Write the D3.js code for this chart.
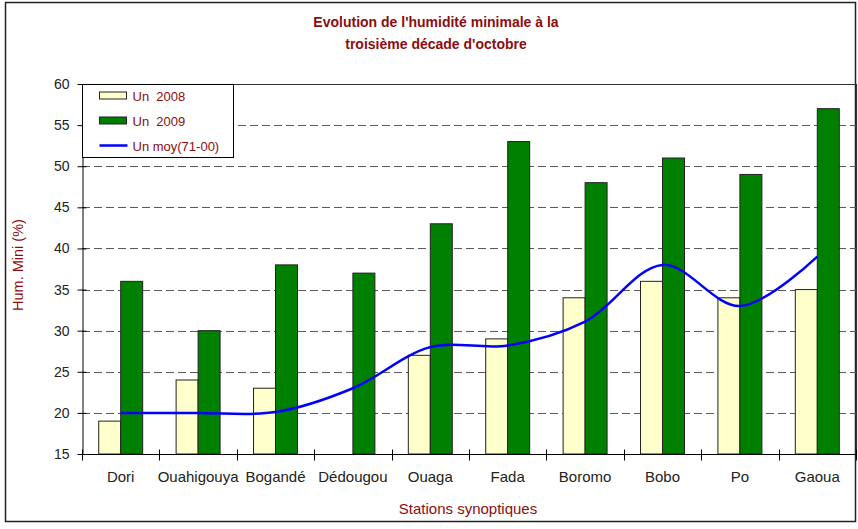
<!DOCTYPE html>
<html lang="fr">
<head>
<meta charset="UTF-8">
<title>Humidité minimale</title>
<script src="https://d3js.org/d3.v7.min.js"></script>
<style>
  body { margin: 0; background: #fff; }
  svg { display: block; font-family: "Liberation Sans", Arial, sans-serif; }
  text { white-space: pre; }
</style>
</head>
<body>
<script>
// stations and values
const stations = ["Dori", "Ouahigouya", "Bogandé", "Dédougou", "Ouaga", "Fada", "Boromo", "Bobo", "Po", "Gaoua"];
const un2008 = [19, 24, 23, null, 27, 29, 34, 36, 34, 35];
const un2009 = [36, 30, 38, 37, 43, 53, 48, 51, 49, 57];
const unMoy = [20, 20, 20.1, 23, 28, 28.2, 31.1, 38, 33, 39];
const yTicks = [15, 20, 25, 30, 35, 40, 45, 50, 55, 60];
const seriesNames = ["Un  2008", "Un  2009", "Un moy(71-00)"];

const W = 858, H = 529;
const plot = {left: 82, right: 856, top: 84, bottom: 454};
const darkRed = "#8b0d0d";

const svg = d3.select("body").append("svg")
  .attr("width", W).attr("height", H);

// outer frame
svg.append("rect")
  .attr("x", 5.5).attr("y", 2.5).attr("width", 850).attr("height", 519)
  .attr("fill", "#fff").attr("stroke", "#222").attr("stroke-width", 1.5);

const x0 = d3.scaleBand().domain(stations).range([plot.left, plot.right]).padding(0);
const x1 = d3.scaleBand().domain(["2008", "2009"]).range([0, x0.bandwidth()])
  .paddingInner(0).paddingOuter(0.76);
const y = d3.scaleLinear().domain([15, 60]).range([plot.bottom, plot.top]);

// grid lines
svg.append("g").selectAll("line")
  .data(yTicks.filter(t => t > 15 && t < 60))
  .join("line")
  .attr("x1", plot.left).attr("x2", plot.right)
  .attr("y1", d => Math.round(y(d)) + 0.5).attr("y2", d => Math.round(y(d)) + 0.5)
  .attr("stroke", "#5a5a5a").attr("stroke-dasharray", "8,4");

// plot border (top & right)
svg.append("path")
  .attr("d", `M${plot.left},${plot.top + 0.5}H${plot.right + 0.5}V${plot.bottom}`)
  .attr("fill", "none").attr("stroke", "#333").attr("stroke-width", 1.2);

// bars
const bars = svg.append("g");
bars.selectAll(".b08")
  .data(stations.map((s, i) => ({s, v: un2008[i]})).filter(d => d.v != null))
  .join("rect")
  .attr("x", d => x0(d.s) + x1("2008"))
  .attr("y", d => y(d.v))
  .attr("width", x1.bandwidth())
  .attr("height", d => y(15) - y(d.v))
  .attr("fill", "#ffffcc").attr("stroke", "#222").attr("stroke-width", 1);
bars.selectAll(".b09")
  .data(stations.map((s, i) => ({s, v: un2009[i]})))
  .join("rect")
  .attr("x", d => x0(d.s) + x1("2009"))
  .attr("y", d => y(d.v))
  .attr("width", x1.bandwidth())
  .attr("height", d => y(15) - y(d.v))
  .attr("fill", "#008000").attr("stroke", "#222").attr("stroke-width", 1);

// smoothed average line
const line = d3.line()
  .x((d, i) => x0(stations[i]) + x0.bandwidth() / 2)
  .y(d => y(d))
  .curve(d3.curveCatmullRom.alpha(0.5));
svg.append("path")
  .attr("d", line(unMoy))
  .attr("fill", "none").attr("stroke", "#0000ff").attr("stroke-width", 2.5);

// y axis
const yAxis = d3.axisLeft(y).tickValues(yTicks).tickSizeInner(5).tickSizeOuter(0).tickPadding(8);
const gy = svg.append("g").attr("transform", `translate(${plot.left + 0.5},0)`).call(yAxis);
gy.select(".domain").attr("stroke", "#000");
gy.selectAll(".tick line").attr("x2", -5).attr("x1", 4).attr("stroke", "#000");
gy.selectAll("text").attr("font-size", 14).attr("fill", "#222")
  .attr("font-family", "Liberation Sans, Arial, sans-serif");

// x axis with ticks between categories
const gx = svg.append("g").attr("transform", `translate(0,${plot.bottom + 0.5})`);
gx.append("line").attr("x1", plot.left).attr("x2", plot.right).attr("stroke", "#000");
gx.selectAll(".tk")
  .data(d3.range(stations.length + 1))
  .join("line")
  .attr("x1", i => Math.round(plot.left + i * x0.step()) + 0.5)
  .attr("x2", i => Math.round(plot.left + i * x0.step()) + 0.5)
  .attr("y1", -5).attr("y2", 6).attr("stroke", "#000");
gx.selectAll("text")
  .data(stations)
  .join("text")
  .attr("x", d => x0(d) + x0.bandwidth() / 2)
  .attr("y", 27)
  .attr("text-anchor", "middle")
  .attr("font-size", 15).attr("fill", "#222")
  .text(d => d);

// titles
const title = svg.append("text")
  .attr("text-anchor", "middle").attr("font-size", 14).attr("font-weight", "bold")
  .attr("fill", darkRed);
title.append("tspan").attr("x", 436).attr("y", 27).text("Evolution de l'humidité minimale à la");
title.append("tspan").attr("x", 436).attr("y", 49).text("troisième décade d'octobre");

svg.append("text")
  .attr("x", 468).attr("y", 514).attr("text-anchor", "middle")
  .attr("font-size", 15).attr("fill", darkRed)
  .text("Stations synoptiques");

svg.append("text")
  .attr("transform", `translate(23,265) rotate(-90)`)
  .attr("text-anchor", "middle")
  .attr("font-size", 14.5).attr("fill", darkRed)
  .text("Hum. Mini (%)");

// legend
const lg = svg.append("g").attr("transform", "translate(82.5,84.5)");
lg.append("rect").attr("width", 151).attr("height", 73)
  .attr("fill", "#fff").attr("stroke", "#000");
const swFill = ["#ffffcc", "#008000"];
seriesNames.forEach((name, i) => {
  const cy = 11 + i * 25;
  if (i < 2) {
    lg.append("rect").attr("x", 17).attr("y", cy - 3.5).attr("width", 27).attr("height", 7)
      .attr("fill", swFill[i]).attr("stroke", "#222");
  } else {
    lg.append("line").attr("x1", 17).attr("x2", 45).attr("y1", cy).attr("y2", cy)
      .attr("stroke", "#0000ff").attr("stroke-width", 2.5);
  }
  lg.append("text").attr("x", 50).attr("y", cy + 5)
    .attr("font-size", 13).attr("fill", darkRed).text(name);
});
</script>
</body>
</html>
